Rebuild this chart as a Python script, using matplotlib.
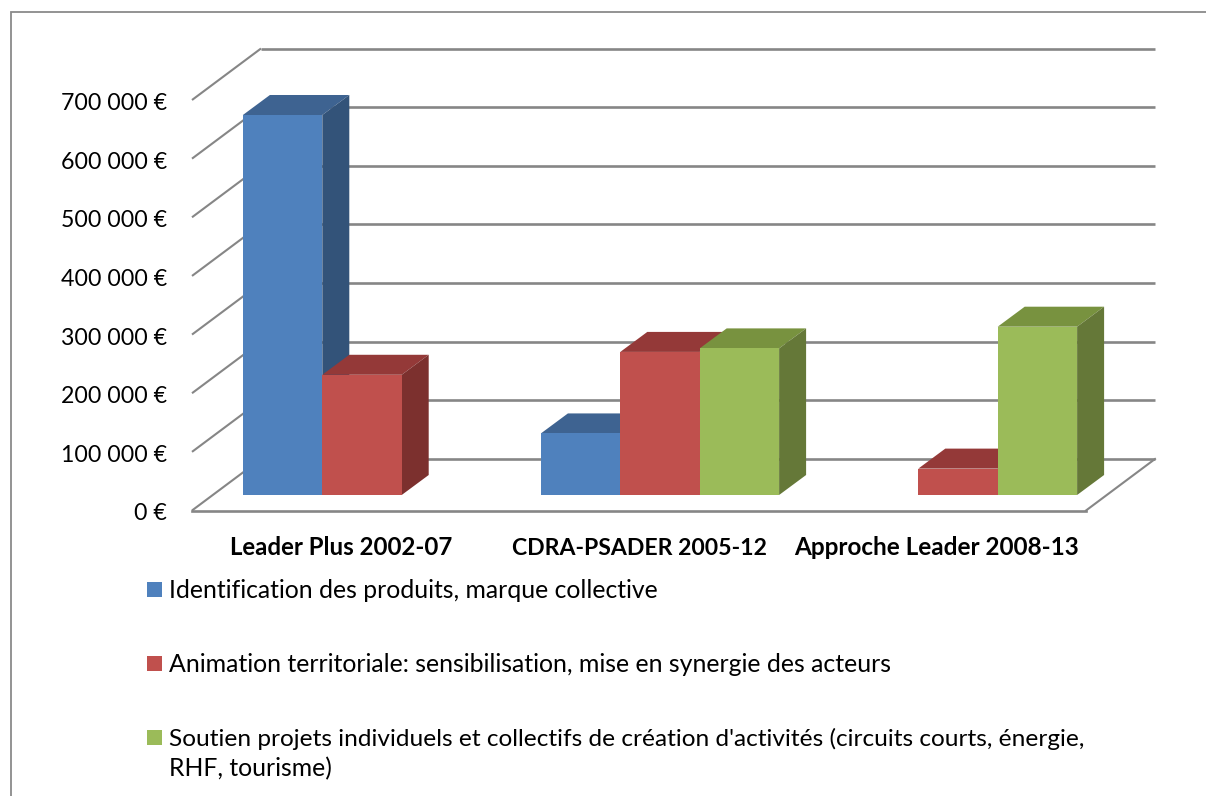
import matplotlib
matplotlib.use("Agg")
import matplotlib.pyplot as plt
from matplotlib.patches import Polygon, Rectangle
from matplotlib.transforms import Affine2D, IdentityTransform

categories = ["Leader Plus 2002-07", "CDRA-PSADER 2005-12", "Approche Leader 2008-13"]
identification = [648000, 105000, 0]
animation = [205000, 244000, 45000]
soutien = [0, 250000, 287000]
tick_values = [0, 100000, 200000, 300000, 400000, 500000, 600000, 700000]
tick_labels = ["0 €", "100 000 €", "200 000 €", "300 000 €", "400 000 €", "500 000 €", "600 000 €", "700 000 €"]
legend_labels = [
    "Identification des produits, marque collective",
    "Animation territoriale: sensibilisation, mise en synergie des acteurs",
    "Soutien projets individuels et collectifs de création d'activités (circuits courts, énergie,\nRHF, tourisme)",
]
front_colors = ["#4F81BD", "#C0504D", "#9BBB59"]
top_colors = ["#3E6391", "#943938", "#78923F"]
side_colors = ["#335379", "#7C302E", "#657838"]

W, H = 1206, 796
FONT = "Lato"
GRID = "#868686"
fig = plt.figure(figsize=(W / 100, H / 100), dpi=100, facecolor="white")
PX = IdentityTransform()

def fx(x): return x / W
def fy(y): return 1 - y / H

ax = fig.add_axes([fx(192), fy(510.5), (1086 - 192) / W, (510.5 - 100) / H])
ax.set_xlim(0, 3)
ax.set_ylim(0, 700000)
ax.patch.set_visible(False)
for s in ax.spines.values():
    s.set_visible(False)

# chart frame
fig.add_artist(Rectangle((fx(10.5), fy(830)), 1240 / W, (830 - 12.5) / H, transform=fig.transFigure,
                         fill=False, ec="#8a8a8a", lw=1.3))

def shifted(dx, dy):
    return ax.transData + Affine2D().translate(dx, dy)

wall = shifted(69, 51.5)
for v in tick_values:
    p0 = ax.transData.transform((0, v))
    p1 = wall.transform((0, v))
    ax.plot([p0[0], p1[0]], [p0[1], p1[1]], transform=PX, color=GRID, lw=1.5, zorder=1,
            solid_capstyle="butt", clip_on=False)
    ax.plot([0, 3], [v, v], transform=wall, color=GRID, lw=1.9, zorder=1,
            solid_capstyle="butt", clip_on=False)
# floor
ax.plot([0, 3], [0, 0], color=GRID, lw=1.9, zorder=1, clip_on=False)
p0 = ax.transData.transform((3, 0))
p1 = wall.transform((3, 0))
ax.plot([p0[0], p1[0]], [p0[1], p1[1]], transform=PX, color=GRID, lw=1.5, zorder=1, clip_on=False)

# bars
bar_w = 79.4 / 298
front = shifted(21, 15.5)
series = [identification, animation, soutien]
z = 2
for i in range(len(categories)):
    for j, vals in enumerate(series):
        v = vals[i]
        if not v:
            continue
        x0 = i + 0.5 + (j - 1.5) * bar_w
        x1 = x0 + bar_w
        a = front.transform([(x0, 0), (x1, 0), (x1, v), (x0, v)])
        d = (27, 20)
        top = [a[3], a[2], (a[2][0] + d[0], a[2][1] + d[1]), (a[3][0] + d[0], a[3][1] + d[1])]
        side = [a[1], (a[1][0] + d[0], a[1][1] + d[1]), (a[2][0] + d[0], a[2][1] + d[1]), a[2]]
        ax.add_patch(Polygon(top, closed=True, transform=PX, fc=top_colors[j], ec="none", zorder=z, clip_on=False))
        ax.add_patch(Polygon(side, closed=True, transform=PX, fc=side_colors[j], ec="none", zorder=z, clip_on=False))
        ax.add_patch(Polygon(a, closed=True, transform=PX, fc=front_colors[j], ec="none", zorder=z + 0.5, clip_on=False))
        z += 1

ax.set_yticks(tick_values)
ax.set_yticklabels(tick_labels, fontname=FONT, fontsize=16.7, color="black")
ax.tick_params(axis="y", length=0, pad=18)
for lab in ax.get_yticklabels():
    lab.set_transform(lab.get_transform() + Affine2D().translate(0, -1.5))
ax.set_xticks([0.5, 1.5, 2.5])
ax.set_xticklabels(categories, fontname=FONT, fontweight="bold", color="black")
ax.tick_params(axis="x", length=0, pad=18.5)
for lab, size, drop in zip(ax.get_xticklabels(), [17.3, 16.6, 17.5], [0, 1.5, 0]):
    lab.set_fontsize(size)
    lab.set_transform(lab.get_transform() + Affine2D().translate(0, -drop))

# legend
swatch_y = [589.5, 663.5, 737.5]
base_y = [597.5, 671.5, 745.5]
line_sizes = [[17.85], [17.9], [17.57, 17.8]]
for lab, col, sy, by, sizes in zip(legend_labels, front_colors, swatch_y, base_y, line_sizes):
    fig.add_artist(Rectangle((fx(147), fy(sy + 7.5)), 15 / W, 15 / H, transform=fig.transFigure, fc=col, ec="none"))
    for k, line in enumerate(lab.split("\n")):
        fig.text(fx(169), fy(by + 31 * k), line, fontname=FONT, fontsize=sizes[k], color="black", ha="left", va="baseline")

fig.savefig("out.png", dpi=100)
